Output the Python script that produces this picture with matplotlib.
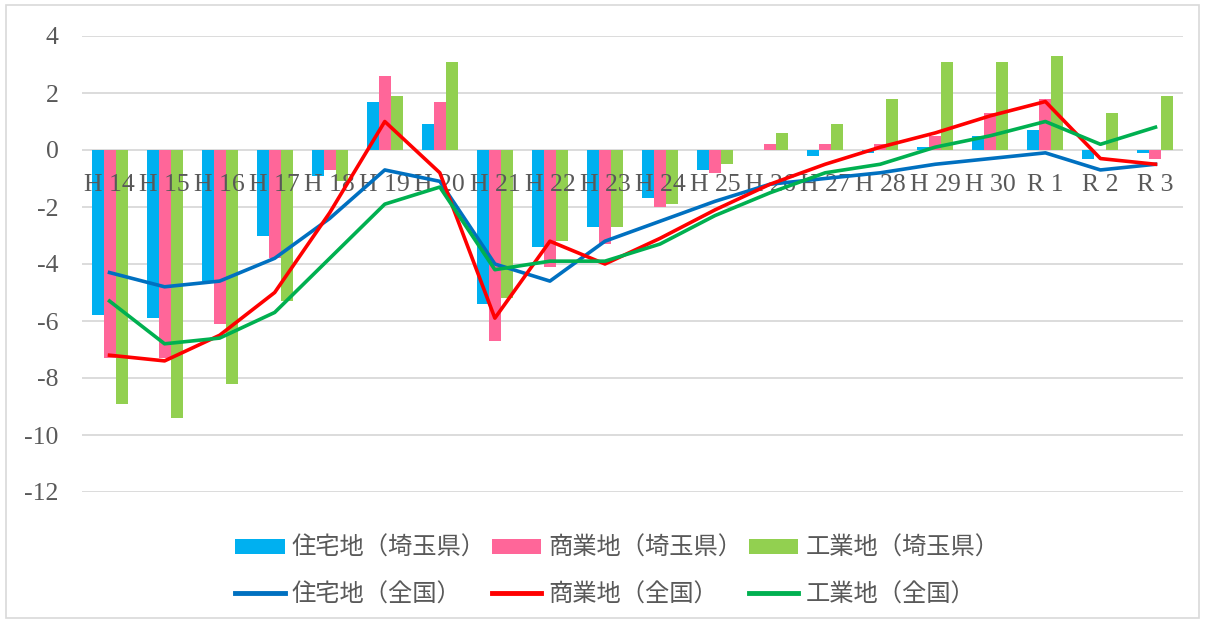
import matplotlib
matplotlib.use("Agg")
import matplotlib.pyplot as plt
import numpy as np
from matplotlib.patches import Rectangle
from matplotlib.lines import Line2D

plt.rcParams.update({"font.family": ["Liberation Serif", "Noto Sans CJK JP"],
                     "axes.unicode_minus": False})

# 年次（H14〜R3）
years = ["H 14", "H 15", "H 16", "H 17", "H 18", "H 19", "H 20", "H 21", "H 22", "H 23",
         "H 24", "H 25", "H 26", "H 27", "H 28", "H 29", "H 30", "R 1", "R 2", "R 3"]

# 埼玉県（棒）
res_sai = [-5.8, -5.9, -4.6, -3.0, -0.9, 1.7, 0.9, -5.4, -3.4, -2.7,
           -1.7, -0.7, 0.0, -0.2, -0.1, 0.1, 0.5, 0.7, -0.3, -0.1]
com_sai = [-7.3, -7.3, -6.1, -3.8, -0.7, 2.6, 1.7, -6.7, -4.1, -3.3,
           -2.0, -0.8, 0.2, 0.2, 0.2, 0.5, 1.3, 1.8, 0.0, -0.3]
ind_sai = [-8.9, -9.4, -8.2, -5.3, -1.1, 1.9, 3.1, -5.2, -3.2, -2.7,
           -1.9, -0.5, 0.6, 0.9, 1.8, 3.1, 3.1, 3.3, 1.3, 1.9]

# 全国（折れ線）
res_nat = [-4.3, -4.8, -4.6, -3.8, -2.4, -0.7, -1.1, -4.0, -4.6, -3.2,
           -2.5, -1.8, -1.2, -1.0, -0.8, -0.5, -0.3, -0.1, -0.7, -0.5]
com_nat = [-7.2, -7.4, -6.5, -5.0, -2.2, 1.0, -0.8, -5.9, -3.2, -4.0,
           -3.1, -2.1, -1.2, -0.5, 0.1, 0.6, 1.2, 1.7, -0.3, -0.5]
ind_nat = [-5.3, -6.8, -6.6, -5.7, -3.8, -1.9, -1.3, -4.2, -3.9, -3.9,
           -3.3, -2.3, -1.5, -0.8, -0.5, 0.1, 0.5, 1.0, 0.2, 0.8]

labels_sai = ["住宅地（埼玉県）", "商業地（埼玉県）", "工業地（埼玉県）"]
labels_nat = ["住宅地（全国）", "商業地（全国）", "工業地（全国）"]
yticks = [4, 2, 0, -2, -4, -6, -8, -10, -12]

C_BAR = ["#00B0F0", "#FF6699", "#92D050"]
C_LINE = ["#0070C0", "#FF0000", "#00B050"]
TXT = "#595959"

fig = plt.figure(figsize=(12.05, 6.22), dpi=100)
ax = fig.add_axes([82/1205, 130/622, 1101/1205, 456/622])
fig.patches.append(Rectangle((6/1205, 4/622), 1193/1205, 613/622, transform=fig.transFigure,
                             fill=False, ec="#D9D9D9", lw=1.2))

x = np.arange(len(years))
w = 0.218
bars = []
for k, (vals, c) in enumerate(zip([res_sai, com_sai, ind_sai], C_BAR)):
    bars.append(ax.bar(x + (k - 1) * w, vals, w, color=c, zorder=3))
lines = []
for vals, c in zip([res_nat, com_nat, ind_nat], C_LINE):
    lines += ax.plot(x, vals, color=c, lw=2.6, zorder=5, solid_joinstyle="round")

ax.set_xlim(-0.5, len(years) - 0.5)
ax.set_ylim(-12, 4)
ax.set_yticks(yticks)
ax.set_xticks(x)
ax.set_xticklabels(years)
for s in ax.spines.values():
    s.set_visible(False)
ax.spines["bottom"].set_position(("data", 0))
ax.tick_params(axis="x", length=0, pad=17, labelsize=18.5, labelcolor=TXT)
ax.tick_params(axis="y", length=0, pad=17, labelsize=18.5, labelcolor=TXT)
ax.grid(axis="y", color="#D9D9D9", lw=1.3)
ax.yaxis.set_zorder(0.5)
ax.xaxis.set_zorder(4)

handles, labs = [], []
for b, l, lb, ln in zip(bars, lines, labels_sai, labels_nat):
    handles += [b, Line2D([], [], color=l.get_color(), lw=3.5)]
    labs += [lb, ln]
fig.legend(handles, labs, ncol=3, loc="center", bbox_to_anchor=(0.512, 0.082),
           frameon=False, prop={"family": ["Noto Sans CJK JP"], "size": 17.5},
           labelcolor=TXT, handlelength=2.05, handleheight=0.6, handletextpad=0.28,
           columnspacing=0.26, labelspacing=0.84)

fig.savefig("out.png", facecolor="white")
